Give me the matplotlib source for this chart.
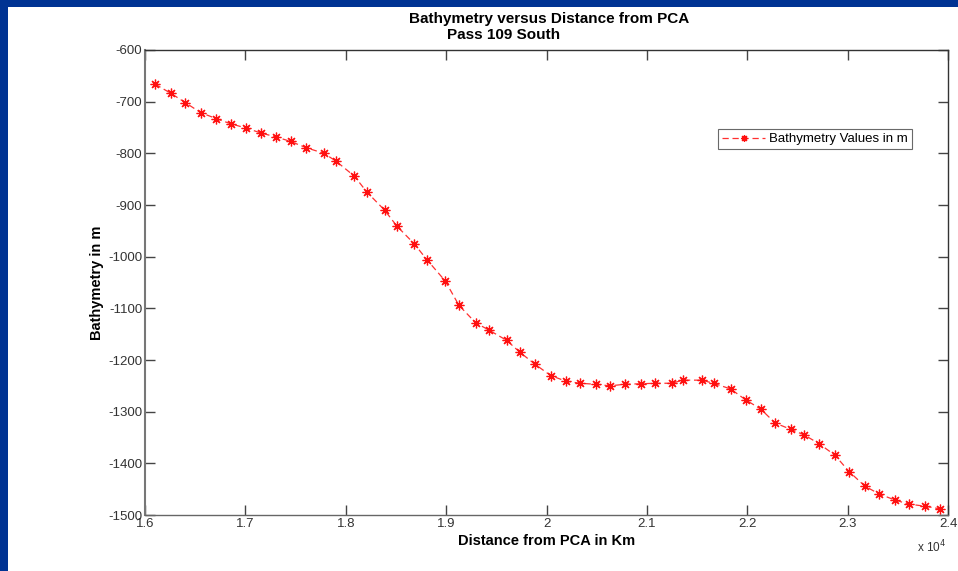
import matplotlib
matplotlib.use("Agg")
import matplotlib.pyplot as plt
from matplotlib.ticker import FuncFormatter, MultipleLocator
from matplotlib.patches import Rectangle

plt.rcParams['font.family'] = ['Liberation Sans', 'DejaVu Sans']

distance_m = [16100, 16259, 16403, 16553, 16712, 16857, 17006, 17160, 17302, 17451,
              17604, 17783, 17902, 18085, 18211, 18387, 18510, 18682, 18809, 18991,
              19127, 19294, 19426, 19603, 19735, 19884, 20041, 20193, 20333, 20489,
              20631, 20781, 20937, 21083, 21246, 21361, 21545, 21664, 21834, 21983,
              22135, 22278, 22431, 22567, 22716, 22872, 23015, 23171, 23311, 23470,
              23612, 23772, 23918]
bathymetry_m = [-666, -684, -702, -721, -733, -743, -751, -761, -768, -777,
                -789, -800, -815, -844, -875, -910, -941, -975, -1006, -1047,
                -1094, -1128, -1142, -1162, -1185, -1208, -1230, -1241, -1245, -1247,
                -1250, -1247, -1246, -1245, -1245, -1239, -1239, -1245, -1256, -1277,
                -1295, -1322, -1334, -1345, -1362, -1384, -1416, -1444, -1459, -1471,
                -1479, -1483, -1488]

title_line1 = "Bathymetry versus Distance from PCA"
title_line2 = "Pass 109 South"
x_label = "Distance from PCA in Km"
y_label = "Bathymetry in m"
legend_label = "Bathymetry Values in m"

W, H = 958, 571
fig = plt.figure(figsize=(W / 100, H / 100), dpi=100)
fig.patch.set_facecolor('white')

# blue frame at top and left
blue = '#003393'
fig.add_artist(Rectangle((0, 1 - 7 / H), 1, 7 / H, transform=fig.transFigure,
                         facecolor=blue, edgecolor='none', zorder=0))
fig.add_artist(Rectangle((0, 0), 8 / W, 1, transform=fig.transFigure,
                         facecolor=blue, edgecolor='none', zorder=0))

ax = fig.add_axes([145 / W, 1 - 515 / H, (948 - 145) / W, (515 - 50) / H])
ax.plot(distance_m, bathymetry_m, color='#ff3030', linestyle='--', linewidth=0.9,
        dashes=(5, 3), marker=(8, 2, 0), markersize=7, markeredgewidth=0.9,
        markeredgecolor='#ff1010', label=legend_label)

ax.set_xlim(16000, 24000)
ax.set_ylim(-1500, -600)
ax.xaxis.set_major_locator(MultipleLocator(1000))
ax.yaxis.set_major_locator(MultipleLocator(100))
ax.xaxis.set_major_formatter(FuncFormatter(lambda v, p: f"{v / 1e4:g}"))
ax.yaxis.set_major_formatter(FuncFormatter(lambda v, p: f"{v:g}"))

ax.tick_params(direction='in', length=7, width=1, top=True, right=True,
               labelsize=9.5, labelcolor='#333333', color='#444444', pad=2)
for s in ax.spines.values():
    s.set_color('#333333')
    s.set_linewidth(1.0)
ax.spines['left'].set_color('#777777')
ax.spines['left'].set_linewidth(1.5)
ax.spines['bottom'].set_color('#666666')

ax.set_xlabel(x_label, fontsize=10.5, fontweight='bold', labelpad=3)
ax.set_ylabel(y_label, fontsize=10.5, fontweight='bold', labelpad=3)

fig.text(549 / W, 1 - 19 / H, title_line1, ha='center', va='center',
         fontsize=11, fontweight='bold')
fig.text(447 / W, 1 - 35 / H, title_line2, ha='left', va='center',
         fontsize=11, fontweight='bold')
fig.text(932 / W, 1 - 547 / H, r"x 10$^4$", ha='center', va='center',
         fontsize=8.5, color='#333333')

leg = ax.legend(loc='upper right', bbox_to_anchor=((912 - 145) / (948 - 145), 1 - (129 - 50) / (515 - 50)),
                fontsize=9.5, frameon=True, fancybox=False, handlelength=3.3,
                borderpad=0.3, handletextpad=0.3, borderaxespad=0, markerscale=0.7)
leg.get_frame().set_edgecolor('#444444')
leg.get_frame().set_linewidth(0.8)

fig.savefig('out.png', dpi=100)
